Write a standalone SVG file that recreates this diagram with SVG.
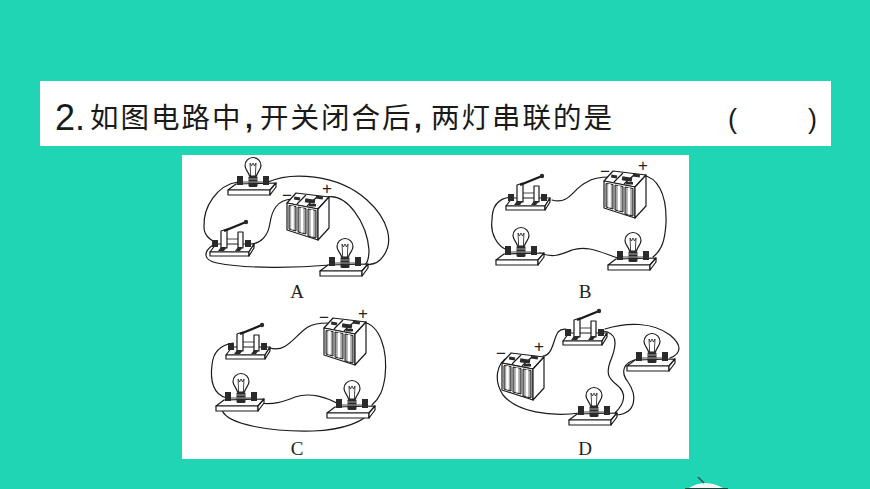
<svg xmlns="http://www.w3.org/2000/svg" width="870" height="489" viewBox="0 0 870 489">
<style>
.cn{font-family:"Noto Sans CJK SC","Noto Sans",sans-serif;font-size:28.500px;fill:#1a1a1a;letter-spacing:2px}
.lat{font-family:"Liberation Sans",sans-serif;fill:#1a1a1a}
.ser{font-family:"Liberation Serif",serif;font-size:19px;fill:#222;text-anchor:middle}
.sign{font-family:"Liberation Sans",sans-serif;font-size:17px;fill:#222;text-anchor:middle}
.w{fill:none;stroke:#1a1a1a;stroke-width:1.200;stroke-linecap:round}
.s{fill:#fff;stroke:#1a1a1a;stroke-width:1.200;stroke-linejoin:round}
.d{fill:#2a2a2a}
.t{fill:none;stroke:#1a1a1a;stroke-width:.8}
</style>
<defs>
<g id="lamp">
<path class="s" d="M-17 2L23 1L17 8L-25 8Z"/>
<path class="s" d="M-25 8H17V13H-25Z"/>
<path class="s" d="M17 8L23 1V5L17 13Z"/>
<path class="t" d="M-13 0H13"/>
<rect class="d" x="-16" y="-6" width="6" height="9"/>
<rect class="d" x="10" y="-6" width="6" height="9"/>
<path class="s" d="M-3.500 -6C-4 -10 -8 -12 -8 -16.500A8 8 0 0 1 8 -16.500C8 -12 4 -10 3.500 -6Z"/>
<path class="t" d="M-2.500 -6V-10L-3 -19L-1.500 -16L0 -19L1.500 -16L3 -19L2.500 -10V-6"/>
<rect class="d" x="-4.500" y="-6" width="9" height="11" rx="1.500"/>
<path d="M-4.500 -3H4.500M-4.500 0H4.500" stroke="#ddd" stroke-width=".7"/>
</g>
<g id="switch">
<path class="s" d="M-16 0L22 0L17 8L-22 8Z"/>
<path class="s" d="M-22 8H17V12H-22Z"/>
<path class="s" d="M17 8L22 0V4L17 12Z"/>
<rect class="d" x="-20" y="-4" width="6" height="7"/>
<rect class="d" x="13" y="-4" width="6" height="7"/>
<path class="t" d="M-6 -5H6"/>
<path class="s" d="M-11 -13L-5 -15V4H-11Z"/>
<path class="s" d="M6 -12L11 -12V4H6Z"/>
<path class="d" d="M-11 3H-5L-8 7H-14ZM6 3H11L8 7H3Z"/>
<path d="M-8 -13L14 -22" stroke="#1a1a1a" stroke-width="2.400" fill="none"/>
<circle class="d" cx="14" cy="-22" r="2.200"/>
</g>
<g id="battery">
<path class="s" d="M-21 -12L-12 -22L21 -18L10 -6Z"/>
<path class="s" d="M-21 -12L10 -6V25L-21 15Z"/>
<path class="s" d="M10 -6L21 -18V13L10 25Z"/>
<path d="M-19 -9.500L-12 -8.500V16L-19 14ZM-10 -8L-2 -6.500V19L-10 17ZM0 -6L8 -4.500V23L0 21Z" fill="#a8a8a8" stroke="#1a1a1a" stroke-width="1"/>
<path d="M-15.500 -9V14.500M-6 -7.500V17.500M4 -5.500V21.500" stroke="#fff" stroke-width="2.500"/>
<path d="M-11 -11L-2 -20M-1 -9L9 -18" stroke="#1a1a1a" stroke-width="1.200"/>
<rect class="d" x="-14" y="-18" width="6" height="3" transform="rotate(8 -11 -16)"/>
<rect class="d" x="-3" y="-16" width="10" height="4" transform="rotate(8 2 -14)"/>
<rect class="d" x="8" y="-19" width="7" height="3" transform="rotate(8 11 -18)"/>
<rect class="d" x="1" y="-11" width="7" height="2.500"/>
</g>
</defs>
<rect width="870" height="489" fill="#20D5B4"/>
<rect x="40" y="81" width="791" height="65" fill="#fff"/>
<rect x="182" y="155" width="507" height="304" fill="#fff"/>
<g id="question">
<text class="lat" x="55" y="130" font-size="36">2.</text>
<text class="cn" x="90" y="128">如图电路中</text>
<text class="lat" x="245" y="128" font-size="28" font-weight="bold">,</text>
<text class="cn" x="260" y="128">开关闭合后</text>
<text class="lat" x="414" y="128" font-size="28" font-weight="bold">,</text>
<text class="cn" x="431" y="128">两灯串联的是</text>
<text class="lat" x="728" y="128" font-size="27">(</text>
<text class="lat" x="808" y="128" font-size="27">)</text>
</g>
<g id="connectors">
<path class="w" d="M238 182C217 185 203 207 204 227C204 235 210 240 215 242"/>
<path class="w" d="M268 182C290 172 337 173 367 200C387 218 397 243 380 260C375 265 368 265 363 265"/>
<path class="w" d="M327 197C347 193 367 223 369 250C369 257 368 262 365 265"/>
<path class="w" d="M292 199C277 200 272 210 270 223C268 237 260 243 252 244"/>
<path class="w" d="M213 245C203 252 203 260 217 263C247 269 297 268 330 265"/>
<path class="w" d="M552 200C570 205 573 188 587 182C593 178 600 177 610 177"/>
<path class="w" d="M642 175C657 177 667 193 666 223C665 240 662 250 653 257"/>
<path class="w" d="M618 258C600 252 587 245 572 250C560 255 553 258 540 253"/>
<path class="w" d="M508 250C497 247 490 233 492 220C492 207 498 198 512 197"/>
<path class="w" d="M270 348C287 353 295 335 308 327C313 324 320 323 328 323"/>
<path class="w" d="M363 322C380 325 388 350 385 377C383 390 380 398 372 405"/>
<path class="w" d="M340 405C327 397 310 392 295 397C283 402 273 405 260 403"/>
<path class="w" d="M227 398C213 395 210 380 212 365C213 353 220 345 233 343"/>
<path class="w" d="M222 410C227 425 273 432 313 431C340 430 367 423 373 407"/>
<path class="w" d="M543 356C553 355 553 340 558 332C562 328 567 329 571 331"/>
<path class="w" d="M508 357C497 363 493 380 503 395C517 412 550 417 580 413"/>
<path class="w" d="M603 331C617 333 617 343 612 357C605 373 608 378 617 385C627 393 625 403 615 413"/>
<path class="w" d="M605 329C627 322 653 322 670 335C682 345 682 353 670 358"/>
<path class="w" d="M638 359C623 362 620 372 628 382C637 395 637 413 617 415"/>
</g>
<g id="circuit-a">
<use href="#lamp" x="253" y="182"/><use href="#lamp" x="345" y="263"/><use href="#switch" x="232" y="244"/><use href="#battery" x="308" y="215"/>
<text class="sign" x="287" y="201">−</text><text class="sign" x="327" y="194">+</text><text class="ser" x="297" y="298">A</text>
</g>
<g id="circuit-b">
<use href="#lamp" x="521" y="252"/><use href="#lamp" x="633" y="257"/><use href="#switch" x="528" y="198"/><use href="#battery" x="625" y="193"/>
<text class="sign" x="605" y="177">−</text><text class="sign" x="643" y="171">+</text><text class="ser" x="585" y="298">B</text>
</g>
<g id="circuit-c">
<use href="#lamp" x="241" y="398"/><use href="#lamp" x="352" y="405"/><use href="#switch" x="248" y="347"/><use href="#battery" x="345" y="340"/>
<text class="sign" x="324" y="323">−</text><text class="sign" x="363" y="319">+</text><text class="ser" x="297" y="455">C</text>
</g>
<g id="circuit-d">
<use href="#lamp" x="594" y="412"/><use href="#lamp" x="652" y="358"/><use href="#switch" x="585" y="333"/><use href="#battery" x="523" y="375"/>
<text class="sign" x="501" y="359">−</text><text class="sign" x="539" y="352">+</text><text class="ser" x="585" y="455">D</text>
</g>
<g id="corner-mark">
<path d="M687 489Q705 477 725 489Z" fill="#f4f4f4"/>
<path d="M698 477L704 483" stroke="#1d5a50" stroke-width="1.500"/>
<path d="M685 488.500H728" stroke="#12463d" stroke-width="1"/>
</g>
</svg>
